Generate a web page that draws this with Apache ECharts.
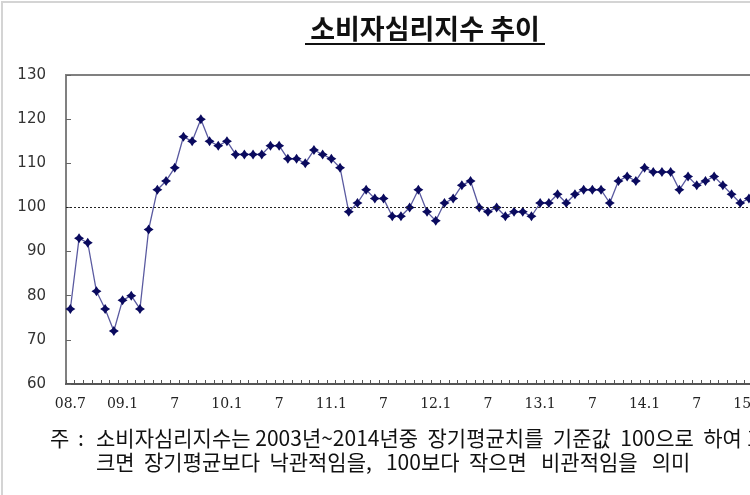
<!DOCTYPE html>
<html>
<head>
<meta charset="utf-8">
<script src="https://cdn.jsdelivr.net/npm/echarts@6/dist/echarts.min.js"></script>
<style>
html,body{margin:0;padding:0;background:#fff;overflow:hidden;width:750px;height:495px;}
#c{width:800px;height:495px;}
</style>
</head>
<body>
<div id="c"></div>
<script>
// Monthly categories from 2008.07 (axis runs a little past the visible edge)
const startYear = 2008, startMonth = 7, monthCount = 81;
const values = [77,93,92,81,77,72,79,80,77,95,
  104,106,109,116,115,120,115,114,115,112,
  112,112,112,114,114,111,111,110,113,112,
  111,109,99,101,104,102,102,98,98,100,
  104,99,97,101,102,105,106,100,99,100,
  98,99,99,98,101,101,103,101,103,104,
  104,104,101,106,107,106,109,108,108,108,
  104,107,105,106,107,105,103,101,102];
const tickLabels = ['08.7','09.1','7','10.1','7','11.1','7','12.1','7','13.1','7','14.1','7','15.1'];
const yTicks = [60,70,80,90,100,110,120,130];
const baseline = 100;
const titleText = '소비자심리지수 추이';
const noteLine1 = '소비자심리지수는 2003년~2014년중  장기평균치를  기준값  100으로  하여 100보다';
const noteLine2 = '크면  장기평균보다  낙관적임을,   100보다  작으면   비관적임을   의미';

const categories = [];
for (let i = 0; i < monthCount; i++) {
  const m = (startMonth - 1 + i) % 12 + 1;
  const y = startYear + Math.floor((startMonth - 1 + i) / 12);
  categories.push(y + '.' + (m < 10 ? '0' + m : m));
}
const seriesData = categories.map((c, i) => i < values.length ? values[i] : null);

const step = 8.7;
const noteFont = '21px "Noto Sans CJK KR"';
const chart = echarts.init(document.getElementById('c'));
chart.setOption({
  animation: false,
  backgroundColor: '#fff',
  grid: {left: 66, top: 75, height: 309, width: step * monthCount,
         show: true, borderColor: '#808080', borderWidth: 2, backgroundColor: 'transparent'},
  xAxis: {
    type: 'category', data: categories, boundaryGap: true,
    axisLine: {lineStyle: {color: '#555', width: 2}},
    axisTick: {show: true, inside: true, length: 4, interval: 0, lineStyle: {color: '#555'}},
    axisLabel: {interval: 5, margin: 13, color: '#222', fontFamily: 'DejaVu Serif', fontSize: 14,
      formatter: (v, i) => tickLabels[Math.round(i / 6)] || ''},
    splitLine: {show: false}
  },
  yAxis: {
    type: 'value', min: yTicks[0], max: yTicks[yTicks.length - 1], interval: 10,
    axisLine: {show: true, lineStyle: {color: '#808080', width: 2}},
    axisTick: {show: true, inside: true, length: 5, lineStyle: {color: '#666'}},
    axisLabel: {margin: 20, color: '#333', fontFamily: 'DejaVu Sans', fontSize: 15},
    splitLine: {show: false}
  },
  series: [{
    type: 'line', data: seriesData, connectNulls: false,
    showAllSymbol: true,
    lineStyle: {color: '#5a5aa0', width: 1.3},
    symbol: 'path://M0,-10 L4,-4 L10,0 L4,4 L0,10 L-4,4 L-10,0 L-4,-4 Z',
    symbolSize: 10,
    itemStyle: {color: '#0a0a5e'},
    markLine: {
      silent: true, symbol: 'none', label: {show: false},
      lineStyle: {color: '#222', type: [2, 2], width: 1},
      data: [{yAxis: baseline}]
    }
  }],
  graphic: [
    {type: 'rect', shape: {x: 2, y: 2, width: 900, height: 600},
     style: {fill: 'none', stroke: '#d4d4d4', lineWidth: 2}, z: 100},
    {type: 'text', x: 425, y: 29, style: {text: titleText, x: 0, y: 0, align: 'center', verticalAlign: 'middle',
      font: 'bold 27px "Noto Sans CJK KR"', fill: '#111'}},
    {type: 'line', shape: {x1: 305, y1: 44, x2: 545, y2: 44}, style: {stroke: '#111', lineWidth: 2}},
    {type: 'text', x: 50, y: 438, style: {text: '주', verticalAlign: 'middle', font: noteFont, fill: '#111'}},
    {type: 'text', x: 78, y: 438, style: {text: ':', verticalAlign: 'middle', font: noteFont, fill: '#111'}},
    {type: 'text', x: 96, y: 438, style: {text: noteLine1, verticalAlign: 'middle', font: noteFont, fill: '#111'}},
    {type: 'text', x: 96, y: 462, style: {text: noteLine2, verticalAlign: 'middle', font: noteFont, fill: '#111'}}
  ]
});
</script>
</body>
</html>
